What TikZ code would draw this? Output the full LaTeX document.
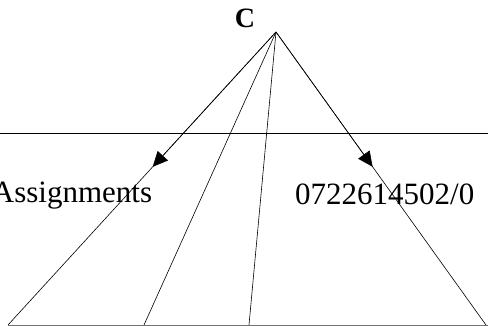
\documentclass[tikz,border=0pt]{standalone}
\usepackage{fontspec}
\setmainfont{Liberation Serif}
\usetikzlibrary{arrows.meta,calc,positioning}

\begin{document}
\begin{tikzpicture}[x=1pt,y=-1pt,>={Triangle[length=15pt,width=14pt]},
  ray/.style={line width=0.6pt},
  rule/.style={line width=1pt},
  lbl/.style={font=\fontsize{31}{33}\selectfont,inner sep=0pt}]
\useasboundingbox (0,0) rectangle (488,326);
% apex and feet
\node[font=\fontsize{28}{30}\selectfont\bfseries,inner sep=0pt] (c) at (245,18) {C};
\coordinate (top) at (276,32);
\coordinate (f1) at (8,325);
\coordinate (f2) at (144,325);
\coordinate (f3) at (249,325);
\coordinate (f4) at (486,325);
% horizontal rules
\coordinate (hl) at (0,134); \coordinate (hr) at (488,134);
\draw[rule] (hl) -- (hr);
\coordinate (bl) at (8,325.5); \coordinate (br) at (488,325.5);
\draw[rule,black!55] (bl) -- (br);
% rays from the apex
\draw[ray] (top) -- (f1);
\draw[ray] (top) -- (f2);
\draw[ray] (top) -- (f3);
\draw[ray] (top) -- (f4);
\draw[ray,->] (top) -- ($(top)!0.46!(f1)$);
\draw[ray,->] (top) -- ($(top)!0.46!(f4)$);
% labels
\node[lbl,anchor=base] (asg) at (72,203) {Assignments};
\node[lbl,anchor=base west] (tel) at (295,205) {0722614502/0};
\end{tikzpicture}
\end{document}
